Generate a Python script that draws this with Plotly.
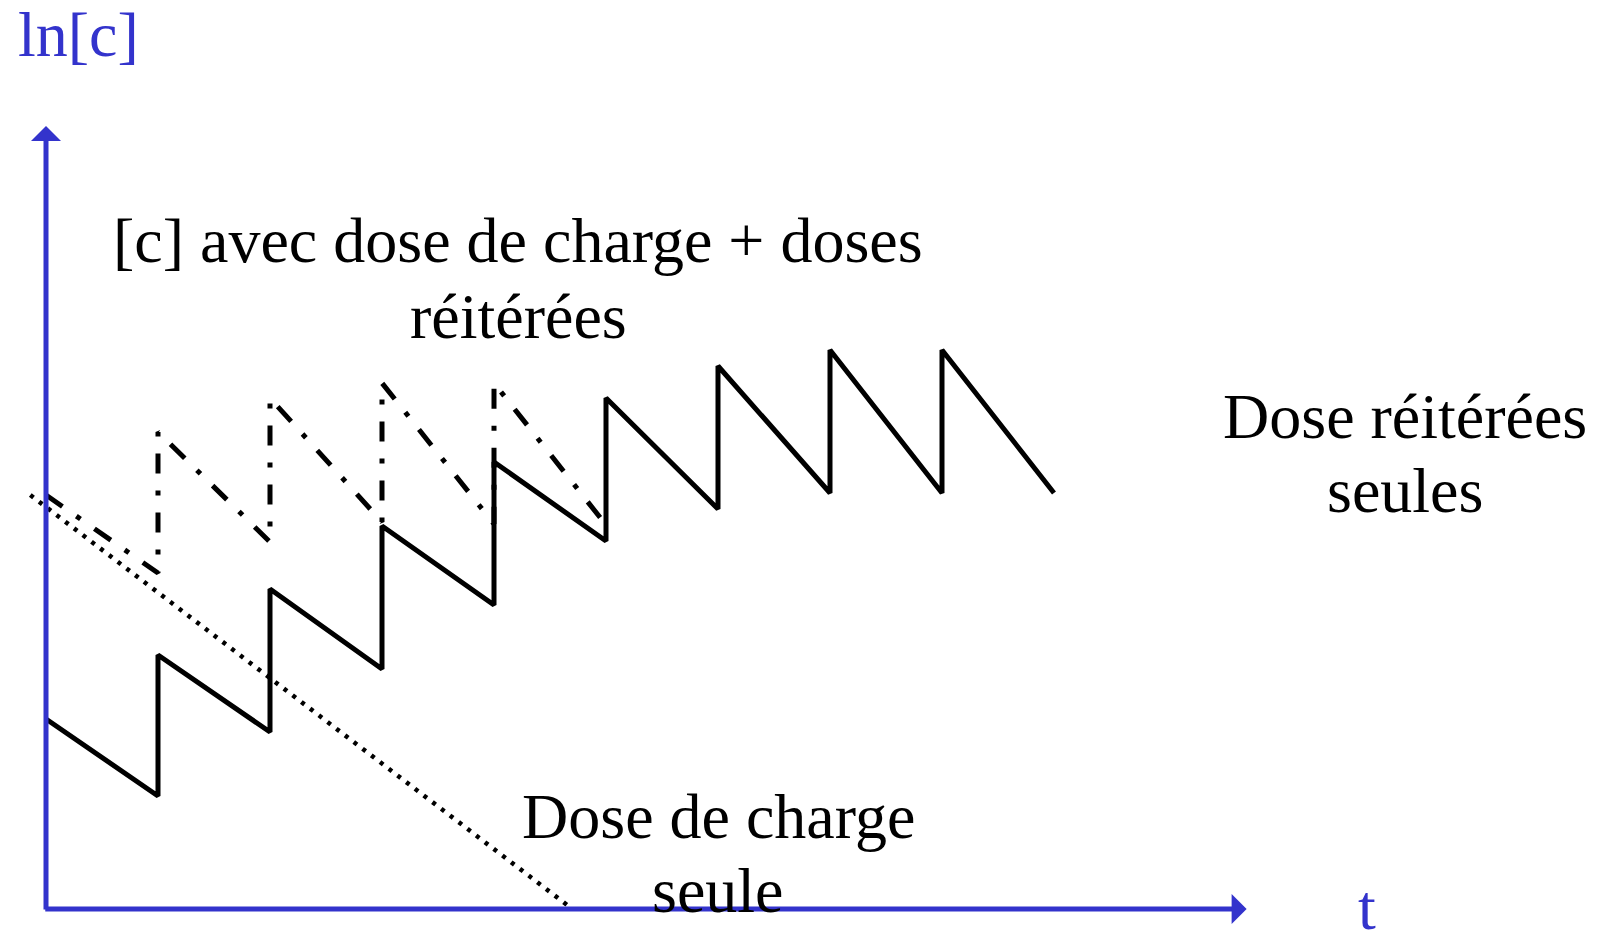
import plotly.graph_objects as go

# Time in dose intervals, ln[c] in arbitrary units
t_solid = [0, 1, 1, 2, 2, 3, 3, 4, 4, 5, 5, 6, 6, 7, 7, 8, 8, 9]
c_solid = [1.90, 1.13, 2.54, 1.77, 3.20, 2.40, 3.83, 3.04, 4.47, 3.68,
           5.11, 4.00, 5.43, 4.16, 5.59, 4.16, 5.59, 4.16]

t_dashdot = [0, 1, 1, 2, 2, 3, 3, 4, 4, 5]
c_dashdot = [4.14, 3.36, 4.77, 3.67, 5.11, 3.87, 5.26, 3.85, 5.26, 3.84]

t_dot = [-0.14, 4.70]
c_dot = [4.14, 0.0]

t_axis_end = 10.72
c_axis_end = 7.83

BLUE = "#3333CC"
FONT = "Liberation Serif, Times New Roman, serif"
W, H = 1597, 936

fig = go.Figure()
fig.add_trace(go.Scatter(x=t_dot, y=c_dot, mode="lines",
                         line=dict(color="black", width=4.5, dash="4px,7px")))
fig.add_trace(go.Scatter(x=t_dashdot, y=c_dashdot, mode="lines",
                         line=dict(color="black", width=5, dash="20px,17px,5px,17px")))
fig.add_trace(go.Scatter(x=t_solid, y=c_solid, mode="lines",
                         line=dict(color="black", width=5)))

# axes arrows
fig.add_annotation(x=0, y=c_axis_end, ax=0, ay=-0.02, xref="x", yref="y",
                   axref="x", ayref="y", showarrow=True, arrowhead=1,
                   arrowsize=1.0, arrowwidth=5, arrowcolor=BLUE, text="")
fig.add_annotation(x=t_axis_end, y=0, ax=-0.02, ay=0, xref="x", yref="y",
                   axref="x", ayref="y", showarrow=True, arrowhead=1,
                   arrowsize=1.0, arrowwidth=5, arrowcolor=BLUE, text="")

def txt(s, px, py, color="black", xanchor="center"):
    fig.add_annotation(text=s, x=px / W, y=1 - py / H, xref="paper", yref="paper",
                       showarrow=False, xanchor=xanchor, yanchor="middle",
                       font=dict(family=FONT, size=64, color=color))

txt("ln[c]", 16, 35, BLUE, "left")
txt("[c] avec dose de charge + doses", 518, 241)
txt("réitérées", 518, 316)
txt("Dose réitérées", 1405, 416)
txt("seules", 1405, 490)
txt("Dose de charge", 718, 816)
txt("seule", 718, 890)
txt("t", 1367, 907, BLUE)

fig.update_layout(
    width=W, height=H, margin=dict(l=0, r=0, t=0, b=0),
    paper_bgcolor="white", plot_bgcolor="white", showlegend=False,
    xaxis=dict(range=[-46 / 112, (W - 46) / 112], visible=False, fixedrange=True),
    yaxis=dict(range=[-0.27, 9.09], visible=False, fixedrange=True),
)

fig.write_html("out.html", config={"displayModeBar": False},
               post_script="document.body.style.margin='0';")
